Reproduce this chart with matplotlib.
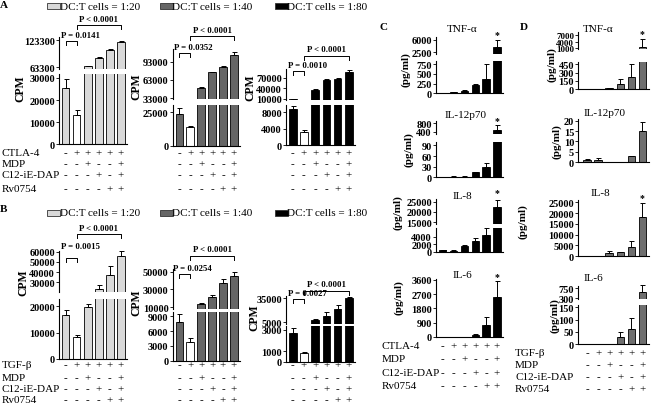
import numpy as np
import matplotlib
matplotlib.use("Agg")
import matplotlib.pyplot as plt
from matplotlib.transforms import Affine2D
from matplotlib.patches import Rectangle
from matplotlib.lines import Line2D

plt.rcParams['font.family'] = ['Liberation Serif', 'DejaVu Serif']

# ---------------- data ----------------
bar_index = [0, 1, 2, 3, 4, 5]
row_labels_A = ['CTLA-4', 'MDP', 'C12-iE-DAP', 'Rv0754']
row_labels_B = ['TGF-\u03b2', 'MDP', 'C12-iE-DAP', 'Rv0754']
row_signs = [['-', '+', '+', '+', '+', '+'],
             ['-', '-', '+', '-', '-', '+'],
             ['-', '-', '-', '+', '-', '+'],
             ['-', '-', '-', '-', '+', '+']]
legend_labels = ['DC:T cells = 1:20', 'DC:T cells = 1:40', 'DC:T cells = 1:80']

a1_vals = [25500, 13300, 64900, 84000, 101700, 118200]
a1_errs = [4200, 2100, 1000, 1800, 2700, 3500]
a2_vals = [23700, 13800, 49500, 75500, 83700, 104100]
a2_errs = [4500, 1200, 1200, 1000, 1500, 5000]
a3_vals = [8700, 3200, 36600, 65100, 67100, 88000]
a3_errs = [700, 400, 1500, 1500, 2500, 5000]
b1_vals = [16800, 8400, 19500, 23500, 37200, 56000]
b1_errs = [1700, 600, 1300, 3900, 9100, 4500]
b2_vals = [7900, 3700, 14000, 22000, 37500, 44700]
b2_errs = [1600, 800, 1000, 1500, 4800, 5000]
b3_vals = [2700, 800, 8300, 12500, 21600, 35400]
b3_errs = [500, 150, 600, 5000, 5000, 1500]

c_tnf_vals = [15, 30, 60, 210, 365, 4050]
c_tnf_errs = [5, 10, 15, 40, 385, 1950]
c_il12_vals = [1, 2, 2, 14.6, 28, 480]
c_il12_errs = [0.5, 0.5, 0.5, 1.5, 12, 210]
c_il8_vals = [500, 350, 1500, 2800, 4400, 22600]
c_il8_errs = [100, 80, 200, 800, 1800, 3400]
c_il6_vals = [20, 20, 20, 150, 760, 2500]
c_il6_errs = [5, 5, 5, 30, 470, 1000]

d_tnf_vals = [8, 5, 15, 90, 229, 1500]
d_tnf_errs = [3, 2, 5, 100, 220, 3700]
d_il12_vals = [0.9, 1.1, 0.05, 0.05, 2.9, 15.0]
d_il12_errs = [0.6, 0.9, 0, 0, 0.2, 4.5]
d_il8_vals = [100, 100, 1400, 1850, 4400, 18000]
d_il8_errs = [50, 50, 1200, 200, 2600, 6600]
d_il6_vals = [1, 1, 0, 30, 61, 600]
d_il6_errs = [0.5, 0.5, 0, 20, 47, 300]

# ---------------- figure ----------------
W, H = 656, 410
fig = plt.figure(figsize=(W / 100, H / 100), dpi=100)
PIX = Affine2D().scale(1 / W, -1 / H).translate(0, 1) + fig.transFigure

LIGHT, MID, DARK, DGRAY = '#d9d9d9', '#666666', '#000000', '#6e6e6e'
TICKFS = 7.5


def px_axes(x0, x1, y0, y1):
    return fig.add_axes([x0 / W, 1 - y1 / H, (x1 - x0) / W, (y1 - y0) / H])


def style(ax, lim, ticks, show_bottom, xlim, fs=TICKFS):
    ax.set_facecolor('none')
    for s in ['top', 'right']:
        ax.spines[s].set_visible(False)
    ax.spines['bottom'].set_visible(show_bottom)
    for s in ax.spines.values():
        s.set_linewidth(0.8)
    ax.set_xlim(*xlim)
    ax.set_ylim(*lim)
    ax.set_yticks(ticks)
    ax.set_yticklabels([('%g' % t) for t in ticks], fontweight='bold', fontsize=fs)
    ax.tick_params(axis='y', length=2, width=0.6, pad=1)
    ax.tick_params(axis='x', bottom=False, labelbottom=False)


def add_err(ax, vals, errs, mask, clip):
    idx = np.array(bar_index)[mask]
    if len(idx) == 0:
        return
    v = np.array(vals, float)[mask]
    e = np.array(errs, float)[mask]
    eb = ax.errorbar(idx, v, yerr=[np.zeros_like(e), e], fmt='none', ecolor='black',
                     elinewidth=0.7, capsize=1.8, capthick=0.7)
    for a in list(eb.lines[1]) + list(eb.lines[2]):
        a.set_clip_on(clip)


def chart(vals, errs, colors, xr, bbox, blim, bticks, tbox=None, tlim=None, tticks=None,
          xlim=(-0.6, 5.55), tfs=TICKFS):
    vals = np.array(vals, float)
    ab = px_axes(xr[0], xr[1], bbox[0], bbox[1])
    style(ab, blim, bticks, True, xlim)
    ab.bar(bar_index, vals, width=0.68, color=colors, edgecolor='black', linewidth=0.6)
    if tbox is None:
        add_err(ab, vals, errs, np.ones(len(vals), bool), False)
        return ab, None
    add_err(ab, vals, errs, vals < blim[1], True)
    at = px_axes(xr[0], xr[1], tbox[0], tbox[1])
    style(at, tlim, tticks, False, xlim, tfs)
    at.bar(bar_index, vals, width=0.68, color=colors, edgecolor='black', linewidth=0.6)
    add_err(at, vals, errs, vals > tlim[0], False)
    return ab, at


def bx(ax, i):
    return (ax.transData + PIX.inverted()).transform((i, 0))[0]


def bracket(ax, i, j, yline, text, ytext, left=None):
    xa, xb = bx(ax, i), bx(ax, j)
    fig.add_artist(Line2D([xa, xa, xb, xb], [yline + 4, yline, yline, yline + 4],
                          transform=PIX, color='black', lw=0.7))
    if left is None:
        fig.text((xa + xb) / 2, ytext, text, transform=PIX, ha='center', va='center',
                 fontsize=6.3, fontweight='bold')
    else:
        fig.text(left, ytext, text, transform=PIX, ha='left', va='center',
                 fontsize=6.3, fontweight='bold')


def ftext(x, y, s, **kw):
    kw.setdefault('ha', 'center')
    kw.setdefault('va', 'center')
    return fig.text(x, y, s, transform=PIX, **kw)


def sign_rows(ax, labels, xlab, ys):
    for lab, y, signs in zip(labels, ys, row_signs):
        if lab:
            ftext(xlab, y, lab, ha='left', fontsize=8)
        for i, s in zip(bar_index, signs):
            ftext(bx(ax, i), y, s, fontsize=8)


def star(ax, y):
    ftext(bx(ax, 5), y, '*', fontsize=7, fontweight='bold')


# ---------------- Panels A and B ----------------
colA = [LIGHT, 'white', LIGHT, LIGHT, LIGHT, LIGHT]
colB = [MID, 'white', MID, MID, MID, MID]
colK = [DARK, 'white', DARK, DARK, DARK, DARK]

a1b, a1t = chart(a1_vals, a1_errs, colA, (59, 127), (75, 145.3), (0, 31800), [0, 10000, 20000, 30000],
                 (38, 70), (58860, 130000), [63300, 123300])
a2b, a2t = chart(a2_vals, a2_errs, colB, (172.7, 240), (106, 146.7), (0, 30460), [0, 25000],
                 (50, 100), (31350, 114000), [33000, 63000, 93000])
a3b, a3t = chart(a3_vals, a3_errs, colK, (286, 355), (106, 146), (0, 9700), [0, 4000, 8000],
                 (70, 101), (7143, 95700), [10000, 40000, 70000])

b1b, b1t = chart(b1_vals, b1_errs, colA, (59, 127), (300, 360), (0, 22700), [0, 10000, 20000],
                 (252, 293), (20500, 60700), [30000, 40000, 50000, 60000])
b2b, b2t = chart(b2_vals, b2_errs, colB, (172.7, 240), (313.3, 361.7), (0, 9800), [0, 3000, 6000, 9000],
                 (270, 310), (8100, 53000), [10000, 30000, 50000])
b3b, b3t = chart(b3_vals, b3_errs, colK, (286, 355), (326.7, 362.7), (0, 3400), [0, 1000, 3000],
                 (297, 325), (2900, 37900), [5000, 35000])

bracket(a1b, 0, 1, 41.5, 'P = 0.0141', 36, left=61)
bracket(a1b, 1, 5, 26, 'P < 0.0001', 19.5)
bracket(a2b, 0, 1, 54, 'P = 0.0352', 48, left=174)
bracket(a2b, 1, 5, 36.7, 'P < 0.0001', 31)
bracket(a3b, 0, 1, 71.7, 'P = 0.0010', 66, left=288)
bracket(a3b, 1, 5, 57, 'P < 0.0001', 50.5)
bracket(b1b, 0, 1, 259, 'P = 0.0015', 247, left=61)
bracket(b1b, 1, 5, 235, 'P < 0.0001', 229.5)
bracket(b2b, 0, 1, 275, 'P = 0.0254', 269.5, left=173)
bracket(b2b, 1, 5, 257, 'P < 0.0001', 250.5)
bracket(b3b, 0, 1, 300, 'P = 0.0027', 294, left=288)
bracket(b3b, 1, 5, 291.5, 'P < 0.0001', 285.5)

for (x, y) in [(20.7, 89), (136.7, 87), (250.7, 88), (23.3, 283), (136.7, 303), (254, 318)]:
    ftext(x, y, 'CPM', rotation=90, fontsize=8.5, fontweight='bold')

for yleg in (7, 214):
    for lab, col, xs, xt in zip(legend_labels, [LIGHT, MID, DARK], [47, 160, 275], [60, 172, 287]):
        fig.add_artist(Rectangle((xs, yleg + 2.5), 12.5, -5.5, transform=PIX, facecolor=col,
                                 edgecolor='#333333', lw=0.6))
        ftext(xt, yleg, lab, ha='left', fontsize=8)

ftext(4, 6, 'A', fontsize=8, fontweight='bold')
ftext(3, 210, 'B', fontsize=8, fontweight='bold')
ftext(384, 28, 'C', fontsize=8, fontweight='bold')
ftext(524, 27.5, 'D', fontsize=8, fontweight='bold')

rowsA_y = [153.3, 164.3, 176, 189.3]
rowsB_y = [365.7, 378.3, 389.3, 400.7]
sign_rows(a1b, row_labels_A, 2, rowsA_y)
sign_rows(a2b, [''] * 4, 0, rowsA_y)
sign_rows(a3b, [''] * 4, 0, rowsA_y)
sign_rows(b1b, row_labels_B, 2, rowsB_y)
sign_rows(b2b, [''] * 4, 0, rowsB_y)
sign_rows(b3b, [''] * 4, 0, rowsB_y)

# ---------------- Panel C ----------------
ck = [DARK] * 6
c1b, c1t = chart(c_tnf_vals, c_tnf_errs, ck, (436, 503), (61.7, 94.3), (0, 835), [0, 250, 500, 750],
                 (38, 55), (2030, 6750), [2500, 6000])
c2b, c2t = chart(c_il12_vals, c_il12_errs, ck, (436, 503), (143.3, 178.3), (0, 99), [0, 30, 60, 90],
                 (121.7, 135), (294, 906), [400, 800])
c3b, c3t = chart(c_il8_vals, c_il8_errs, ck, (436, 503), (229.3, 253), (0, 6150), [0, 2000, 4000],
                 (200, 224.7), (14300, 26300), [15000, 20000, 25000])
c4b, _ = chart(c_il6_vals, c_il6_errs, ck, (436, 503), (280, 338), (0, 3650), [0, 900, 1800, 2700, 3600])

for (x, y, t) in [(462, 29.3, 'TNF-\u03b1'), (466, 115, 'IL-12p70'), (462, 196.7, 'IL-8'), (462, 276, 'IL-6')]:
    ftext(x, y, t, fontsize=8)
for (x, y) in [(406, 70), (409, 150), (398, 213), (399, 298)]:
    ftext(x, y, '(pg/ml)', rotation=90, fontsize=8, fontweight='bold')
star(c1b, 35.5)
star(c2b, 122)
star(c3b, 194)
star(c4b, 278)
sign_rows(c4b, row_labels_A, 381.7, [346.7, 360, 373.3, 386.7])

# ---------------- Panel D ----------------
dg = [DGRAY] * 6
dx = (578.3, 649)
dxl = (-0.8, 5.6)
d1b, d1t = chart(d_tnf_vals, d_tnf_errs, dg, dx, (63.3, 90.3), (0, 486), [0, 150, 300, 450],
                 (33.3, 50), (700, 8200), [1000, 4000, 7000], xlim=dxl, tfs=6.5)
d2b, _ = chart(d_il12_vals, d_il12_errs, dg, dx, (120, 163.3), (0, 20.8), [0, 5, 10, 15, 20], xlim=dxl)
d3b, _ = chart(d_il8_vals, d_il8_errs, dg, dx, (201, 257.3), (0, 26060),
               [0, 5000, 10000, 15000, 20000, 25000], xlim=dxl)
d4b, d4t = chart(d_il6_vals, d_il6_errs, dg, dx, (306, 345.3), (0, 159), [0, 50, 100, 150],
                 (287.3, 300), (270, 840), [300, 750], xlim=dxl)

for (x, y, t) in [(598, 29.3, 'TNF-\u03b1'), (605, 114, 'IL-12p70'), (600, 194, 'IL-8'), (593, 278.3, 'IL-6')]:
    ftext(x, y, t, fontsize=8)
for (x, y) in [(552, 65), (557, 142), (523, 222), (555, 316)]:
    ftext(x, y, '(pg/ml)', rotation=90, fontsize=8, fontweight='bold')
star(d1b, 34.5)
star(d3b, 199)
sign_rows(d4b, row_labels_B, 515, [354, 365.7, 377.3, 389.3])

fig.savefig('out.png', dpi=100)
